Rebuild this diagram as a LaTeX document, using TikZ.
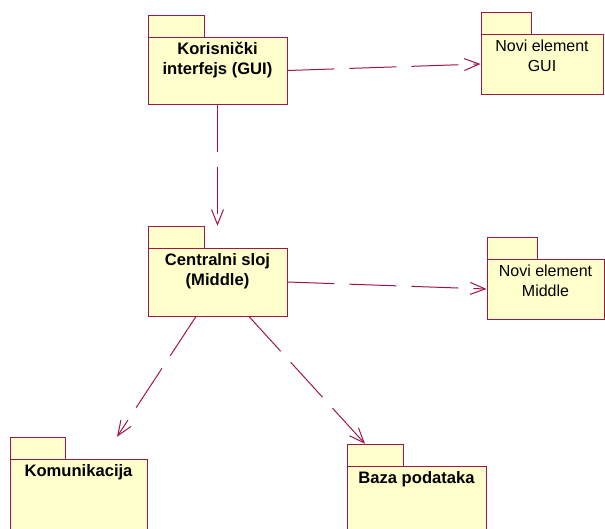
\documentclass[tikz,border=0pt]{standalone}
\usepackage{fontspec}
\setmainfont{Liberation Sans}
\usetikzlibrary{arrows.meta,fit}
\definecolor{umlred}{RGB}{160,22,72}
\definecolor{umlfill}{RGB}{255,255,204}
\tikzset{
  pkgline/.style={draw=umlred, fill=umlfill, line width=1pt},
  pkgbody/.style={pkgline, inner sep=0pt},
  pkgbold/.style={font=\bfseries\fontsize{16.6}{20}\selectfont, align=center, inner sep=0pt, text=black},
  pkgreg/.style={font=\fontsize{16}{20}\selectfont, align=center, inner sep=0pt, text=black},
  twolines/.style={yshift=-20pt},
  dep/.style={draw=umlred, line width=1pt, dash pattern=on 47pt off 15pt,
    -{Straight Barb[length=15pt,width=12pt,line width=1pt]}},
}
\newcommand\umlpkg[8]{%
  \node[inner sep=0pt, fit={(#2,#3) (#4,#5)}] (#1) {};
  \draw[pkgline] (#2,#3) rectangle (#2+#6,#3+22);
  \node[pkgbody, fit={(#2,#3+22) (#4,#5)}] (#1-b) {};
  \node[#8, anchor=base] (#1-t) at ([yshift=-18pt]#1-b.north) {#7};
}
\begin{document}
\begin{tikzpicture}[x=1pt,y=-1pt]
\useasboundingbox (0,0) rectangle (605,528);
\clip (0,0) rectangle (605,528);
\umlpkg{gui}{148}{15}{287}{104}{56}{Korisnički\\interfejs (GUI)}{pkgbold,twolines}
\umlpkg{ngui}{481}{12}{603}{94}{50}{Novi element\\GUI}{pkgreg,twolines}
\umlpkg{central}{148}{226}{287}{316}{56}{Centralni sloj\\(Middle)}{pkgbold,twolines}
\umlpkg{nmid}{487}{237}{604}{319}{50}{Novi element\\Middle}{pkgreg,twolines}
\umlpkg{kom}{10}{437}{147}{545}{55}{Komunikacija}{pkgbold}
\umlpkg{baza}{347}{444}{486}{545}{56}{Baza podataka}{pkgbold}
\draw[dep] (gui-b.east) -- (ngui-b.west);
\draw[dep] (gui-b.south) -- (central.north);
\draw[dep] (central-b.east) -- (nmid-b.west);
\draw[dep] ([xshift=-21.5pt]central-b.south) -- ([xshift=38.5pt]kom.north);
\draw[dep] ([xshift=31.5pt]central-b.south) -- ([xshift=-51.5pt]baza.north);
\end{tikzpicture}
\end{document}
